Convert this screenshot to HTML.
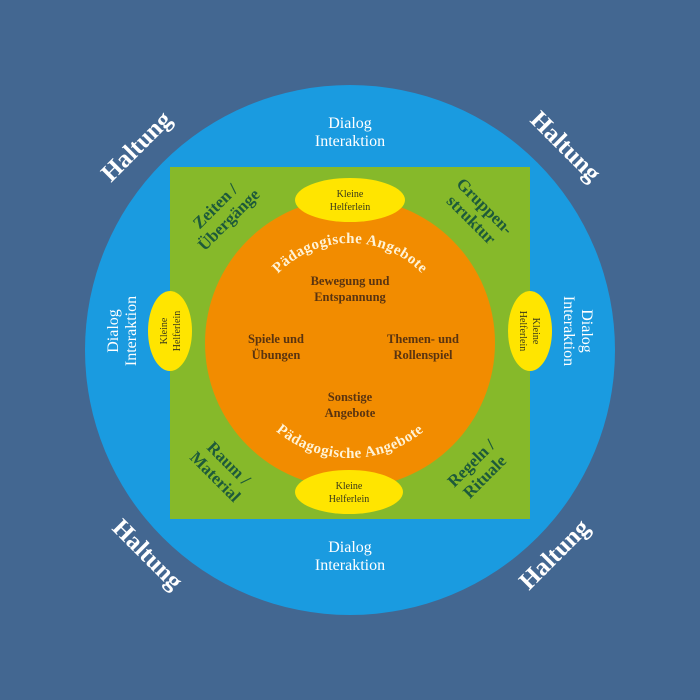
<!DOCTYPE html>
<html><head><meta charset="utf-8"><style>
html,body{margin:0;padding:0;background:#436791;}
svg{display:block}
text{font-family:"Liberation Serif",serif;}
</style></head><body>
<svg width="700" height="700" viewBox="0 0 700 700" xmlns="http://www.w3.org/2000/svg">
<rect width="700" height="700" fill="#436791"/>
<circle cx="350" cy="350" r="265" fill="#1a9be0"/>
<rect x="170" y="167" width="360" height="352" fill="#86b92a"/>
<circle cx="350" cy="343" r="145" fill="#f28c00"/>
<ellipse cx="350" cy="200" rx="55" ry="22" fill="#ffe500"/>
<ellipse cx="349" cy="492" rx="54" ry="22" fill="#ffe500"/>
<ellipse cx="170" cy="331" rx="22" ry="40" fill="#ffe500"/>
<ellipse cx="530" cy="331" rx="22" ry="40" fill="#ffe500"/>

<g fill="#fff" font-weight="bold" font-size="25" text-anchor="middle">
<text transform="translate(142,152) rotate(-45)">Haltung</text>
<text transform="translate(560,152) rotate(45)">Haltung</text>
<text transform="translate(142,560) rotate(45)">Haltung</text>
<text transform="translate(560,560) rotate(-45)">Haltung</text>
</g>
<g fill="#fff" font-size="16" text-anchor="middle">
<text x="350" y="128">Dialog</text><text x="350" y="146">Interaktion</text>
<text x="350" y="552">Dialog</text><text x="350" y="570">Interaktion</text>
<g transform="translate(122,331) rotate(-90)"><text x="0" y="-4">Dialog</text><text x="0" y="14">Interaktion</text></g>
<g transform="translate(578,331) rotate(90)"><text x="0" y="-4">Dialog</text><text x="0" y="14">Interaktion</text></g>
</g>
<g fill="#1d5a3a" font-weight="bold" font-size="17" text-anchor="middle">
<g transform="translate(222,213) rotate(-45)"><text y="-4">Zeiten /</text><text y="15">Übergänge</text></g>
<g transform="translate(478,213) rotate(45)"><text y="-4">Gruppen-</text><text y="15">struktur</text></g>
<g transform="translate(222,470) rotate(45)"><text y="-4">Raum /</text><text y="15">Material</text></g>
<g transform="translate(478,470) rotate(-45)"><text y="-4">Regeln /</text><text y="15">Rituale</text></g>
</g>
<g fill="#3a3a1a" font-size="10" text-anchor="middle">
<text x="350" y="197">Kleine</text><text x="350" y="210">Helferlein</text>
<text x="349" y="489">Kleine</text><text x="349" y="502">Helferlein</text>
<g transform="translate(170,331) rotate(-90)"><text y="-3">Kleine</text><text y="10">Helferlein</text></g>
<g transform="translate(530,331) rotate(90)"><text y="-3">Kleine</text><text y="10">Helferlein</text></g>
</g>
<g fill="#5a3410" font-weight="bold" font-size="12.5" text-anchor="middle">
<text x="350" y="285">Bewegung und</text><text x="350" y="301">Entspannung</text>
<text x="276" y="343">Spiele und</text><text x="276" y="359">Übungen</text>
<text x="423" y="343">Themen- und</text><text x="423" y="359">Rollenspiel</text>
<text x="350" y="401">Sonstige</text><text x="350" y="417">Angebote</text>
</g>
<defs>
<path id="topArc" d="M 250,343 A 100 100 0 0 1 450,343"/>
<path id="botArc" d="M 235,343 A 115 115 0 0 0 465,343"/>
</defs>
<g fill="#fff3d6" font-weight="bold" font-size="15" letter-spacing="0.5">
<text text-anchor="middle"><textPath href="#topArc" startOffset="50%">Pädagogische Angebote</textPath></text>
<text text-anchor="middle"><textPath href="#botArc" startOffset="50%">Pädagogische Angebote</textPath></text>
</g>
</svg>
</body></html>
